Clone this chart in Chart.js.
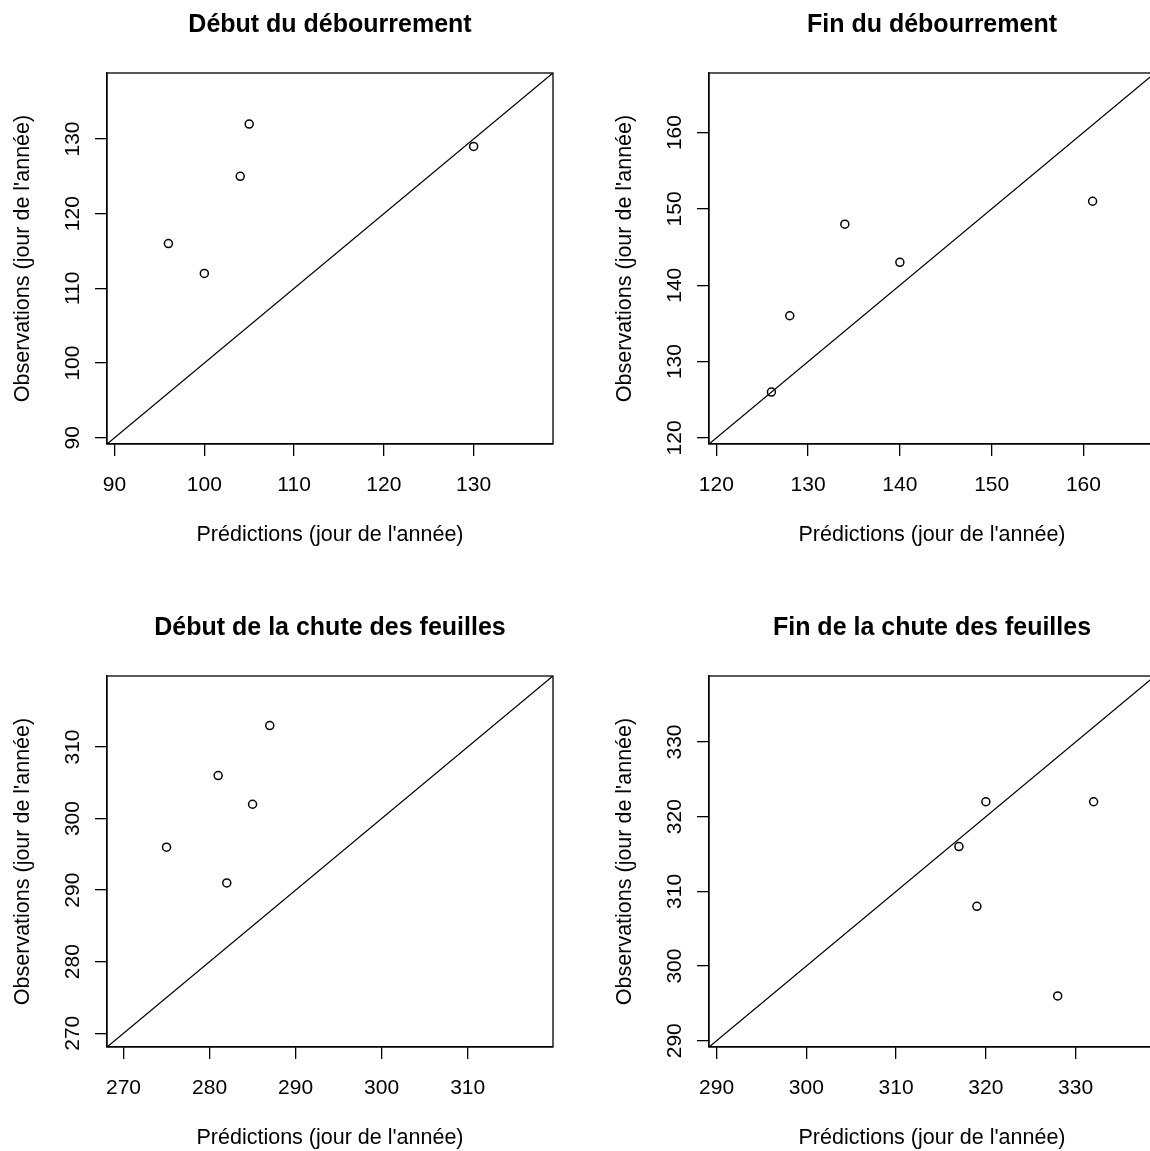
<!DOCTYPE html>
<html lang="fr">
<head>
<meta charset="utf-8">
<title>Prédictions et observations phénologiques</title>
<script src="https://cdn.jsdelivr.net/npm/chart.js@4.4.1/dist/chart.umd.min.js"></script>
<style>
  html, body { margin: 0; padding: 0; background: #fff; overflow: hidden; }
  #grille { position: relative; width: 1150px; height: 1151px; overflow: hidden; background: #fff; }
  #grille canvas { position: absolute; }
</style>
</head>
<body>
<div id="grille">
  <canvas id="p1" width="602" height="603" style="left:0;top:0;width:602px;height:603px"></canvas>
  <canvas id="p2" width="602" height="603" style="left:602px;top:0;width:602px;height:603px"></canvas>
  <canvas id="p3" width="602" height="603" style="left:0;top:603px;width:602px;height:603px"></canvas>
  <canvas id="p4" width="602" height="603" style="left:602px;top:603px;width:602px;height:603px"></canvas>
</div>
<script>
// Titres et libellés
const titres = [
  "Début du débourrement",
  "Fin du débourrement",
  "Début de la chute des feuilles",
  "Fin de la chute des feuilles"
];
const labelX = "Prédictions (jour de l'année)";
const labelY = "Observations (jour de l'année)";

// Jours de l'année : prédictions (x) et observations (y)
const predDebutDeb = [96, 100, 104, 105, 130];
const obsDebutDeb  = [116, 112, 125, 132, 129];

const predFinDeb = [126, 128, 134, 140, 161];
const obsFinDeb  = [126, 136, 148, 143, 151];

const predDebutChute = [275, 281, 282, 285, 287];
const obsDebutChute  = [296, 306, 291, 302, 313];

const predFinChute = [317, 319, 320, 328, 332];
const obsFinChute  = [316, 308, 322, 296, 322];

// Limites communes des deux axes (même échelle en x et en y)
const limDebutDeb   = [89.16, 138.84];
const limFinDeb     = [119.2, 167.8];
const limDebutChute = [268.08, 319.92];
const limFinChute   = [289.16, 338.84];

// Graduations
const gradDebutDeb   = [90, 100, 110, 120, 130];
const gradFinDeb     = [120, 130, 140, 150, 160];
const gradDebutChute = [270, 280, 290, 300, 310];
const gradFinChute   = [290, 300, 310, 320, 330];

const police = "'Liberation Sans', Arial, Helvetica, sans-serif";
const noir = '#000000';
const trait = 1.3;

// Cadre complet autour de la zone de tracé
const cadre = {
  id: 'cadre',
  afterDatasetsDraw(chart) {
    const a = chart.chartArea, ctx = chart.ctx;
    ctx.save();
    ctx.strokeStyle = noir;
    ctx.lineWidth = trait;
    ctx.strokeRect(a.left, a.top, a.right - a.left, a.bottom - a.top);
    ctx.restore();
  }
};

// Libellés des graduations verticales, écrits parallèlement à l'axe
const etiquettesY = {
  id: 'etiquettesY',
  afterDraw(chart) {
    const s = chart.scales.y, ctx = chart.ctx;
    ctx.save();
    ctx.fillStyle = noir;
    ctx.font = '21px ' + police;
    ctx.textAlign = 'center';
    ctx.textBaseline = 'alphabetic';
    s.ticks.forEach(t => {
      const py = s.getPixelForValue(t.value);
      ctx.save();
      ctx.translate(s.right - 28, py);
      ctx.rotate(-Math.PI / 2);
      ctx.fillText(String(t.value), 0, 0);
      ctx.restore();
    });
    ctx.restore();
  }
};

// Titre principal centré au-dessus de la zone de tracé
const titrePanneau = {
  id: 'titrePanneau',
  afterDraw(chart, args, opts) {
    const a = chart.chartArea, ctx = chart.ctx;
    ctx.save();
    ctx.fillStyle = noir;
    ctx.font = 'bold 25px ' + police;
    ctx.textAlign = 'center';
    ctx.textBaseline = 'alphabetic';
    ctx.fillText(opts.text, (a.left + a.right) / 2, 32);
    ctx.restore();
  }
};

function panneau(id, titre, pred, obs, lim, grad) {
  const points = pred.map((p, i) => ({ x: p, y: obs[i] }));
  const fixerGrad = s => { s.ticks = grad.map(v => ({ value: v })); };
  const grille = { drawOnChartArea: false, drawTicks: true, tickLength: 12, color: noir, lineWidth: trait };
  return new Chart(document.getElementById(id), {
    type: 'scatter',
    data: {
      datasets: [
        {
          // droite y = x
          type: 'line',
          data: [{ x: lim[0], y: lim[0] }, { x: lim[1], y: lim[1] }],
          borderColor: noir,
          borderWidth: trait,
          pointRadius: 0,
          fill: false,
          tension: 0,
          order: 2
        },
        {
          data: points,
          pointStyle: 'circle',
          pointRadius: 4,
          pointBorderWidth: 1.5,
          pointBorderColor: noir,
          pointBackgroundColor: 'rgba(0,0,0,0)',
          showLine: false,
          order: 1
        }
      ]
    },
    options: {
      responsive: false,
      animation: false,
      devicePixelRatio: 1,
      layout: { padding: { left: 0, right: 49, top: 73, bottom: 0 } },
      plugins: {
        legend: { display: false },
        tooltip: { enabled: false },
        titrePanneau: { text: titre }
      },
      scales: {
        x: {
          type: 'linear',
          position: 'bottom',
          min: lim[0],
          max: lim[1],
          afterBuildTicks: fixerGrad,
          afterFit: s => { s.height = 159; },
          grid: grille,
          border: { display: true, color: noir, width: trait },
          ticks: {
            color: noir,
            font: { family: police, size: 21 },
            padding: 17,
            autoSkip: false,
            maxRotation: 0,
            minRotation: 0
          },
          title: {
            display: true,
            text: labelX,
            color: noir,
            font: { family: police, size: 21.5 },
            padding: { top: 0, bottom: 55 }
          }
        },
        y: {
          type: 'linear',
          position: 'left',
          min: lim[0],
          max: lim[1],
          afterBuildTicks: fixerGrad,
          afterFit: s => { s.width = 107; },
          grid: grille,
          border: { display: true, color: noir, width: trait },
          ticks: { display: false },
          title: {
            display: true,
            text: labelY,
            color: noir,
            font: { family: police, size: 21.5 },
            padding: { top: 10.5, bottom: 0 }
          }
        }
      }
    },
    plugins: [cadre, etiquettesY, titrePanneau]
  });
}

panneau('p1', titres[0], predDebutDeb, obsDebutDeb, limDebutDeb, gradDebutDeb);
panneau('p2', titres[1], predFinDeb, obsFinDeb, limFinDeb, gradFinDeb);
panneau('p3', titres[2], predDebutChute, obsDebutChute, limDebutChute, gradDebutChute);
panneau('p4', titres[3], predFinChute, obsFinChute, limFinChute, gradFinChute);
</script>
</body>
</html>
